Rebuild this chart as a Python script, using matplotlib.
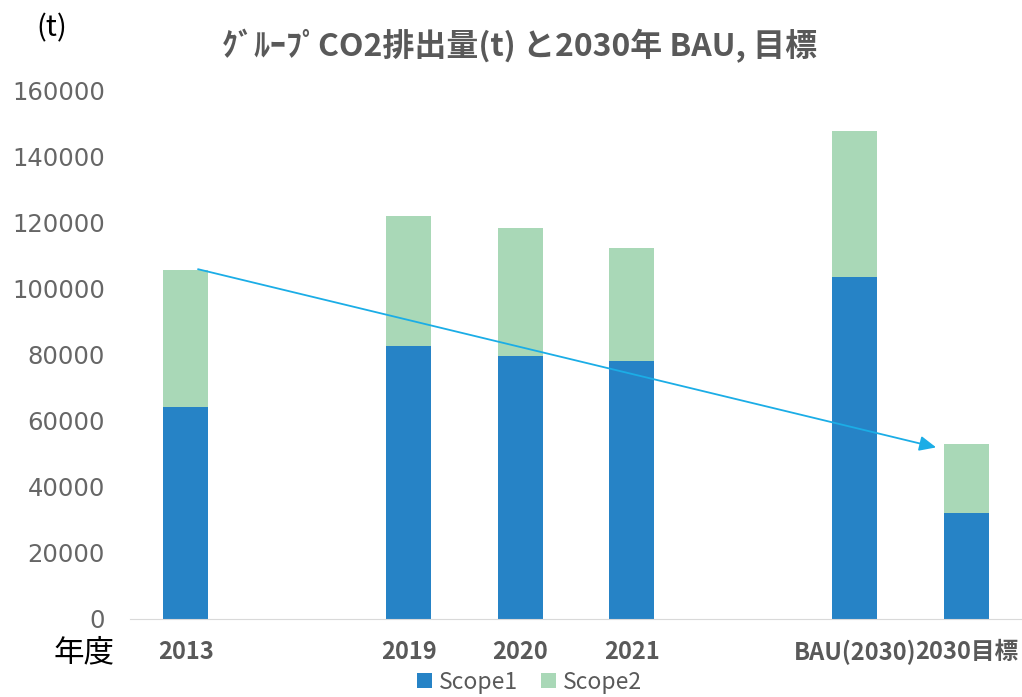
import matplotlib
matplotlib.use('Agg')
import matplotlib.pyplot as plt
import numpy as np

plt.rcParams['font.family'] = ['Noto Sans CJK JP', 'DejaVu Sans']

categories = ['2013', '', '2019', '2020', '2021', '', 'BAU(2030)', '2030目標']
scope1 = [64200, 0, 82700, 79700, 78200, 0, 103600, 32100]
scope2 = [41600, 0, 39400, 38800, 34200, 0, 44300, 20900]
yticks = [0, 20000, 40000, 60000, 80000, 100000, 120000, 140000, 160000]

c1 = '#2683C6'
c2 = '#A9D8B7'
gray = '#595959'

fig = plt.figure(figsize=(10.22, 6.97), dpi=100)
ax = fig.add_axes([130 / 1022, 1 - 619 / 697, 892 / 1022, 528 / 697])

x = np.arange(len(categories))
ax.bar(x, scope1, width=0.4, color=c1, label='Scope1')
ax.bar(x, scope2, width=0.4, bottom=scope1, color=c2, label='Scope2')

ax.set_xlim(-0.5, 7.5)
ax.set_ylim(0, 160000)
ax.set_yticks(yticks)
ax.set_yticklabels([str(v) for v in yticks], family='DejaVu Sans', fontsize=17.5, color='#666666')
ax.tick_params(axis='y', length=0, pad=18)
ax.set_xticks(x)
ax.set_xticklabels(categories, fontsize=17, fontweight='bold', color=gray)
ax.tick_params(axis='x', length=0, pad=15)
for s in ['top', 'right', 'left']:
    ax.spines[s].set_visible(False)
ax.spines['bottom'].set_color('#D9D9D9')

# trend arrow 2013 -> 2030目標
ax.annotate('', xy=(6.73, 52000), xytext=(0.11, 106000),
            arrowprops=dict(arrowstyle='-|>,head_length=1.0,head_width=0.45',
                            color='#1BADE6', lw=1.3, shrinkA=0, shrinkB=0))

fig.text(520 / 1022, 1 - 46 / 697, 'ｸﾞﾙｰﾌﾟCO2排出量(t) と2030年 BAU, 目標',
         ha='center', va='center', fontsize=23, fontweight='bold', color=gray)
fig.text(36 / 1022, 1 - 28 / 697, '(t)', ha='left', va='center', fontsize=21, color='black')
fig.text(54 / 1022, 1 - 653 / 697, '年度', ha='left', va='center', fontsize=22, color='black')

ax.legend(loc='center', bbox_to_anchor=(0.448, -0.12), ncol=2, frameon=False,
          fontsize=16.5, handlelength=0.65, handleheight=0.65, handletextpad=0.3,
          columnspacing=1.0, labelcolor=gray, borderpad=0)

fig.savefig('out.png', dpi=100)
